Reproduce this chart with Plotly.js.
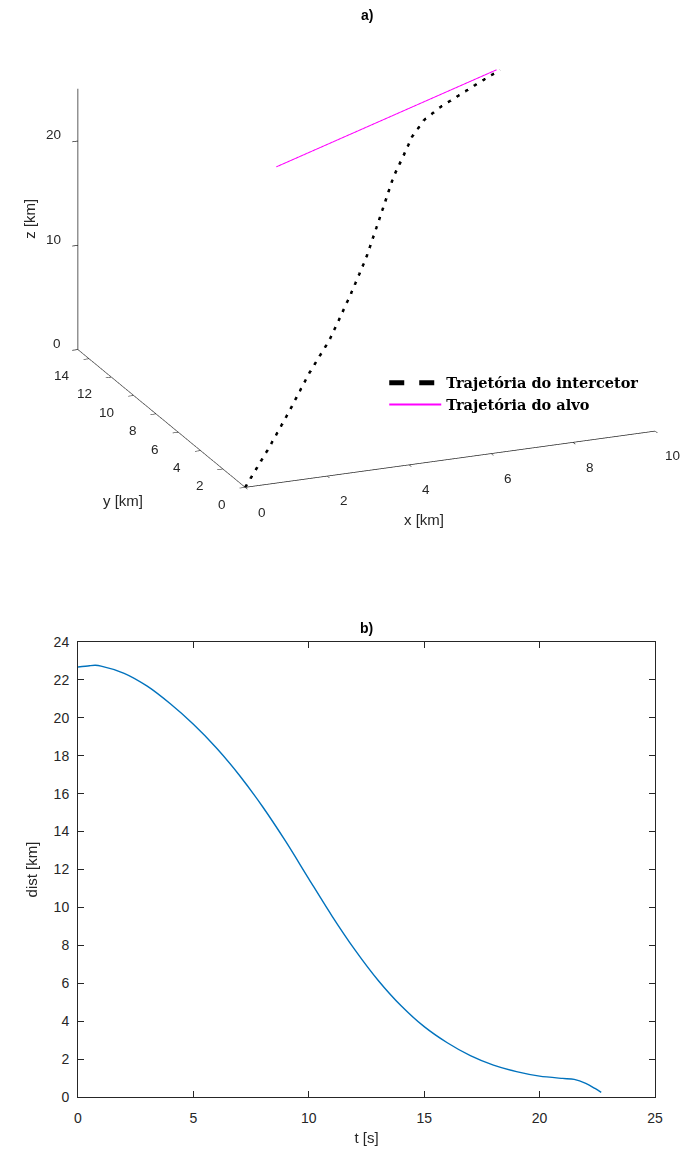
<!DOCTYPE html>
<html>
<head>
<meta charset="utf-8">
<script src="https://cdn.plot.ly/plotly-3.0.1.min.js"></script>
<style>html,body{margin:0;padding:0;background:#fff}#chart{width:688px;height:1155px}</style>
</head>
<body>
<div id="chart"></div>
<script>
// ---- data: panel a) 3D trajectories [km] ----
var interceptorX = [0, 0.86, 1.62, 2.38, 3.12, 3.91, 4.57, 5.19, 5.78, 6.18, 6.51, 6.93, 7.47, 8.06, 8.65, 9.34];
var interceptorY = [0, 1.05, 2.01, 3.01, 3.90, 5.00, 5.96, 6.97, 7.94, 8.49, 8.96, 9.42, 9.91, 10.41, 10.91, 11.5];
var interceptorZ = [0, 2.37, 4.63, 7.01, 9.03, 11.78, 14.26, 17.03, 19.69, 21.07, 22.23, 23.20, 23.75, 24.11, 24.48, 24.86];
var targetX = [3.48, 9.26];
var targetY = [10.0, 11.5];
var targetZ = [20.05, 24.92];
var legendNames = ['Trajetória do intercetor', 'Trajetória do alvo'];
var xTicks3d = [0, 2, 4, 6, 8, 10];
var yTicks3d = [0, 2, 4, 6, 8, 10, 12, 14];
var zTicks3d = [0, 10, 20];

// ---- data: panel b) distance vs time ----
var tSec = [0, 0.5, 0.75, 1, 2, 3, 4, 5, 6, 7, 8, 9, 10, 11, 12, 13, 14, 15, 16, 17, 18, 19, 20, 21, 21.5, 22, 22.4, 22.67];
var distKm = [22.68, 22.75, 22.77, 22.73, 22.35, 21.67, 20.74, 19.66, 18.41, 16.96, 15.31, 13.48, 11.51, 9.56, 7.76, 6.16, 4.81, 3.71, 2.86, 2.18, 1.68, 1.34, 1.10, 0.98, 0.93, 0.72, 0.45, 0.24];

var axisCol = '#262626';
var sans = 'Liberation Sans, Arial, sans-serif';

var traces = [
  {type: 'scatter3d', mode: 'lines', name: legendNames[0], x: interceptorX, y: interceptorY, z: interceptorZ,
   line: {color: '#000000', width: 5, dash: 'dash'}, scene: 'scene', hoverinfo: 'skip'},
  {type: 'scatter3d', mode: 'lines', name: legendNames[1], x: targetX, y: targetY, z: targetZ,
   line: {color: '#ff00ff', width: 2}, scene: 'scene', hoverinfo: 'skip'},
  {type: 'scatter', mode: 'lines', x: tSec, y: distKm, line: {color: '#0072BD', width: 1.4, shape: 'spline', smoothing: 0.8},
   showlegend: false, xaxis: 'x', yaxis: 'y', hoverinfo: 'skip'}
];

// camera from elevation / azimuth
var el = 19.64 * Math.PI / 180;
var r = 2.0;
var eye = {x: -r * Math.cos(el) * 0.3779, y: -r * Math.cos(el) * 0.9258, z: r * Math.sin(el)};
var zoom3d = 1.703;

function ax3(range, dtick) {
  return {range: range, dtick: dtick, autorange: false, showbackground: false, showgrid: false, zeroline: false,
    showline: true, linecolor: axisCol, linewidth: 1.5, ticks: 'outside', ticklen: 6, tickwidth: 1.5, tickcolor: axisCol,
    showticklabels: false, showspikes: false, title: {text: ''}};
}

var tickFont = {family: sans, size: 13.5, color: axisCol};
var ann3 = [];
xTicks3d.forEach(function (v) {
  ann3.push({x: v, y: 0, z: 0, text: String(v), showarrow: false, xanchor: 'center', yanchor: 'middle',
    xshift: 17, yshift: -25, font: tickFont});
});
yTicks3d.forEach(function (v) {
  ann3.push({x: 0, y: v, z: 0, text: String(v), showarrow: false, xanchor: 'right', yanchor: 'middle',
    xshift: -17, yshift: -17, font: tickFont});
});
zTicks3d.forEach(function (v) {
  ann3.push({x: 0, y: 15, z: v, text: String(v), showarrow: false, xanchor: 'right', yanchor: 'middle',
    xshift: -15, yshift: 6, font: tickFont});
});
ann3.push({x: 5, y: 0, z: 0, text: 'x [km]', showarrow: false, xanchor: 'center', yanchor: 'middle',
  xshift: -26, yshift: -61, font: {family: sans, size: 15, color: axisCol}});
ann3.push({x: 0, y: 0, z: 0, text: 'y [km]', showarrow: false, xanchor: 'center', yanchor: 'middle',
  xshift: -122, yshift: -13, font: {family: sans, size: 15, color: axisCol}});
ann3.push({x: 0, y: 15, z: 12.5, text: 'z [km]', showarrow: false, xanchor: 'center', yanchor: 'middle',
  textangle: -90, xshift: -48, yshift: 0, font: {family: sans, size: 15, color: axisCol}});

var layout = {
  width: 688, height: 1155, margin: {l: 0, r: 0, t: 0, b: 0},
  paper_bgcolor: '#ffffff', plot_bgcolor: '#ffffff',
  showlegend: true,
  legend: {x: 0.5585, y: 0.6825, xanchor: 'left', yanchor: 'top', bgcolor: 'rgba(0,0,0,0)', itemwidth: 52,
    tracegroupgap: 0, font: {family: 'DejaVu Serif, serif', size: 14.5, color: '#000', weight: 'bold'}},
  scene: {
    domain: {x: [0.065, 1.0], y: [0.55, 1.0]},
    aspectmode: 'manual', aspectratio: {x: zoom3d, y: zoom3d, z: 0.625 * zoom3d},
    bgcolor: '#ffffff',
    camera: {eye: eye, up: {x: 0, y: 0, z: 1}, center: {x: 0, y: 0, z: 0}, projection: {type: 'orthographic'}},
    xaxis: ax3([0, 10], 2), yaxis: ax3([0, 15], 2), zaxis: ax3([0, 25], 10),
    annotations: ann3
  },
  xaxis: {domain: [78 / 688, 655 / 688], anchor: 'y', range: [0, 25], dtick: 5, autorange: false,
    showline: true, mirror: 'ticks', linecolor: axisCol, linewidth: 1, ticks: 'inside', ticklen: 6, tickcolor: axisCol,
    showgrid: false, zeroline: false, ticklabelstandoff: 8,
    tickfont: {family: sans, size: 14, color: axisCol},
    title: {text: 't [s]', standoff: 7, font: {family: sans, size: 15, color: axisCol}}},
  yaxis: {domain: [(1155 - 1097) / 1155, (1155 - 642) / 1155], anchor: 'x', range: [0, 24], dtick: 2, autorange: false,
    showline: true, mirror: 'ticks', linecolor: axisCol, linewidth: 1, ticks: 'inside', ticklen: 6, tickcolor: axisCol,
    showgrid: false, zeroline: false, ticklabelstandoff: 5,
    tickfont: {family: sans, size: 14, color: axisCol},
    title: {text: 'dist [km]', standoff: 12, font: {family: sans, size: 15, color: axisCol}}},
  annotations: [
    {xref: 'paper', yref: 'paper', x: 0.533, y: 1 - 15 / 1155, text: '<b>a)</b>', showarrow: false,
      xanchor: 'center', yanchor: 'middle', font: {family: sans, size: 14, color: '#000'}},
    {xref: 'paper', yref: 'paper', x: 0.533, y: 1 - 628 / 1155, text: '<b>b)</b>', showarrow: false,
      xanchor: 'center', yanchor: 'middle', font: {family: sans, size: 14, color: '#000'}}
  ]
};

Plotly.newPlot('chart', traces, layout, {displayModeBar: false, responsive: false});
</script>
</body>
</html>
